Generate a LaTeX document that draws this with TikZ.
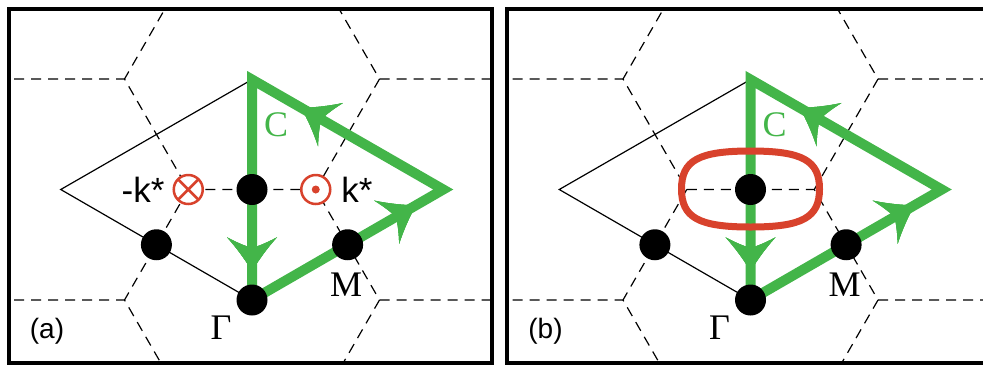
\documentclass[tikz,border=0pt]{standalone}
\usepackage{fontspec}
\setmainfont{Liberation Serif}
\setsansfont{Liberation Sans}
\usetikzlibrary{decorations.markings}
\definecolor{pathgreen}{RGB}{67,181,73}
\definecolor{spinred}{RGB}{216,66,44}

\begin{document}
\begin{tikzpicture}[x=0.5pt, y=-0.5pt,
  every node/.style={inner sep=0pt},
  lattice/.style={dash pattern=on 5pt off 3.5pt, line width=0.6pt},
  zone/.style={line width=0.6pt},
  panelbox/.style={line width=2pt},
  bzpoint/.style={circle, fill=black, minimum size=15.5pt},
  spin/.style={circle, draw=spinred, fill=white, line width=1.25pt, minimum size=14.5pt},
  ring/.style={spinred, line width=3.5pt},
  sym/.style={font=\sffamily\fontsize{17.5pt}{17.5pt}\selectfont},
  lbl/.style={font=\fontsize{18pt}{18pt}\selectfont},
  paneltag/.style={font=\sffamily\fontsize{14pt}{14pt}\selectfont},
  headtip/.style={decoration={markings, mark=at position #1 with {\fill[pathgreen] (0pt,0pt) .. controls (-6pt,-3.5pt) and (-12pt,-8pt) .. (-17pt,-12.5pt) .. controls (-13.5pt,-6pt) and (-12.5pt,-2.5pt) .. (-11.5pt,0pt) .. controls (-12.5pt,2.5pt) and (-13.5pt,6pt) .. (-17pt,12.5pt) .. controls (-12pt,8pt) and (-6pt,3.5pt) .. (0pt,0pt) -- cycle;}}, postaction={decorate}},
  greenloop/.style={pathgreen, line width=5pt, headtip=0.29, headtip=0.62, headtip=0.915}]
\clip (0,0) rectangle (983,365);
\foreach \dx/\pn in {0/a, 498.5/b}{
\begin{scope}[shift={(\dx,0)}]
% honeycomb of zones
\begin{scope}
\clip (8.5,9) rectangle (492.3,363);
\foreach \i in {-3,...,3}
  \foreach \j in {-2,...,2}
    \draw[lattice, shift={({252+191.25*\j},{300+221*\i+110.5*\j})}] (-63.75,-110.5) -- (63.75,-110.5) -- (127.5,0) -- (63.75,110.5);
\end{scope}
\draw[panelbox] (8.5,9) rectangle (492.3,363);
% zone and contour
\coordinate (top\pn) at (252,79.5);
\coordinate (left\pn) at (60.75,189.5);
\coordinate (right\pn) at (443.25,189.5);
\coordinate (gam\pn) at (252,300);
\draw[zone] (top\pn) -- (left\pn) -- (gam\pn);
\draw[greenloop] (top\pn) -- (gam\pn) -- (right\pn) -- cycle;
\node[bzpoint] (Mt\pn) at (252,189.5) {};
\node[bzpoint] (Ml\pn) at (156.4,244.75) {};
\node[bzpoint] (Mr\pn) at (347.6,244.75) {};
\node[bzpoint] (G\pn) at (gam\pn) {};
\node[lbl, text=pathgreen] (C\pn) at (276,125) {C};
\node[lbl] (Mlab\pn) at (346,285) {M};
\node[lbl] (Glab\pn) at (221,328) {Γ};
\node[paneltag] (tag\pn) at (47,331) {(\pn)};
\end{scope}
}
% panel (a): k points
\node[spin, path picture={\draw[spinred, line width=1.25pt] (path picture bounding box.north west) -- (path picture bounding box.south east) (path picture bounding box.north east) -- (path picture bounding box.south west);}] (kin) at (188.25,189.5) {};
\node[spin] (kout) at (315.75,189.5) {};
\fill[spinred] (kout.center) circle[radius=2pt];
\node[sym] (mk) at (143,189.5) {-k*};
\node[sym] (pk) at (357,189.5) {k*};
% panel (b): Fermi surface
\draw[ring, shift={(750.5,189)}] (69,0) .. controls (69,-28.5) and (52,-38) .. (0,-38) .. controls (-52,-38) and (-69,-28.5) .. (-69,0) .. controls (-69,28.5) and (-52,38) .. (0,38) .. controls (52,38) and (69,28.5) .. (69,0) -- cycle;
\end{tikzpicture}
\end{document}
